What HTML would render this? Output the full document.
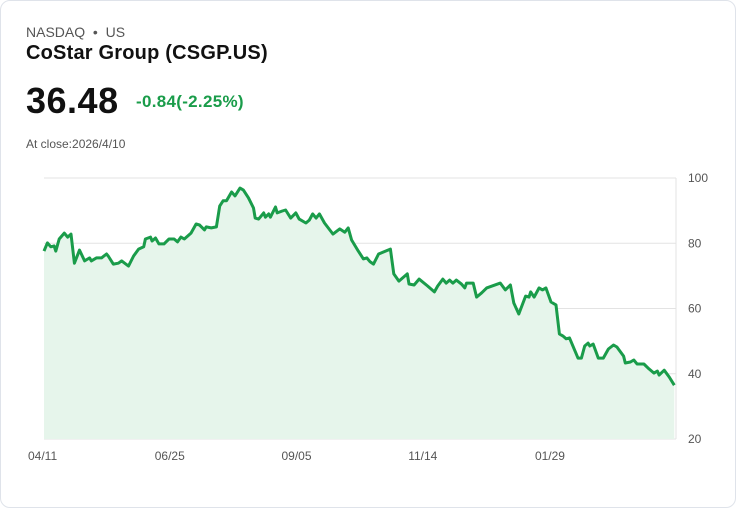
<!DOCTYPE html>
<html><head><meta charset="utf-8"><style>
body{margin:0;background:#fff;font-family:"Liberation Sans",sans-serif;}
.card{position:absolute;left:0;top:0;width:734px;height:506px;border:1px solid #dfe3ea;border-radius:10px;background:#fff;}
.t{position:absolute;white-space:nowrap;}
</style></head><body>
<div class="card">
<div class="t" style="left:25px;top:23px;font-size:14px;color:#555;">NASDAQ &nbsp;•&nbsp; US</div>
<div class="t" style="left:25px;top:41px;font-size:20px;font-weight:bold;color:#111;letter-spacing:0.2px;">CoStar Group (CSGP.US)</div>
<div class="t" style="left:25px;top:79px;font-size:36px;font-weight:bold;color:#111;letter-spacing:0.5px;">36.48</div>
<div class="t" style="left:135px;top:91px;font-size:17px;font-weight:bold;color:#1a9c4a;letter-spacing:0.3px;">-0.84(-2.25%)</div>
<div class="t" style="left:25px;top:136px;font-size:12px;color:#555;">At close:2026/4/10</div>
<svg id="chart" width="736" height="508" style="position:absolute;left:-1px;top:-1px;"></svg>
</div>
<script>
const days=[0,2,4,6,7,9,12,14,16,18,21,24,27,28,31,34,37,38,41,44,46,50,53,56,59,60,63,64,66,68,71,74,77,79,81,83,85,87,90,92,95,96,99,102,104,106,108,111,113,116,118,121,124,125,127,130,131,133,134,137,138,141,143,146,149,151,155,157,159,161,163,166,171,175,178,180,182,186,189,191,193,195,198,205,207,210,215,216,219,222,227,231,233,236,238,240,242,244,247,249,250,254,256,259,262,270,273,276,278,281,285,287,288,290,293,295,297,300,303,305,307,309,311,316,318,320,322,323,325,328,331,334,337,339,343,344,347,349,351,355,358,361,363,364,367,370,373];
const prices=[77.6,80.1,78.9,79.2,77.6,81.3,83.1,81.9,82.8,73.9,77.9,74.6,75.5,74.6,75.5,75.5,76.7,76.1,73.6,73.9,74.6,73.0,76.1,78.2,78.9,81.3,81.9,80.7,81.6,79.8,79.8,81.3,81.3,80.4,81.9,81.3,82.2,83.1,85.9,85.6,84.1,85.0,84.7,85.0,91.4,93.0,93.0,95.7,94.5,96.9,96.3,93.9,90.8,87.7,87.4,89.3,88.0,89.0,88.0,91.1,89.3,89.9,90.2,87.7,89.3,87.4,86.2,87.1,89.0,87.7,89.0,86.2,82.8,84.4,83.4,84.7,81.0,77.6,75.2,75.5,74.3,73.6,76.7,78.2,70.6,68.4,70.6,67.5,67.2,69.0,66.9,65.1,66.9,69.0,67.8,68.7,67.8,68.7,67.5,66.3,67.8,67.8,63.5,64.8,66.3,67.8,65.7,67.2,61.7,58.3,63.8,63.5,65.1,63.5,66.3,65.7,66.3,62.0,61.1,52.2,51.6,50.7,51.0,44.8,44.8,48.5,49.4,48.5,49.1,44.8,44.8,47.6,48.8,48.2,45.4,43.3,43.6,44.2,43.0,43.0,41.5,40.2,40.8,39.6,41.1,39.0,36.48];
const yTicks=[100,80,60,40,20];
const xTickLabels=['04/11','06/25','09/05','11/14','01/29'];
const xTickDays=[0,75,150,225,300];
const NS='http://www.w3.org/2000/svg';
const svg=document.getElementById('chart');
const X0=44,X1=676,Y0=439,Y1=178,D=374;
const xs=d=>X0+d*(X1-X0)/D;
const ys=v=>Y0-(v-20)*(Y0-Y1)/80;
function mk(t,a){const e=document.createElementNS(NS,t);for(const k in a)e.setAttribute(k,a[k]);svg.appendChild(e);return e;}
yTicks.forEach(v=>{
 const l=mk('line',{x1:X0,x2:X1,y1:ys(v),y2:ys(v),stroke:'#e3e3e3','stroke-width':1});
 
 
 const t=mk('text',{x:688,y:ys(v)+4,'font-size':12,fill:'#555','font-family':'Liberation Sans, sans-serif'});
 t.textContent=v;
 
 
});
const ax=mk('line',{x1:X1,x2:X1,y1:Y1,y2:Y0,stroke:'#e3e3e3','stroke-width':1});


xTickLabels.forEach((s,i)=>{
 const t=mk('text',{x:xs(xTickDays[i])-16,y:460,'font-size':12,fill:'#555','font-family':'Liberation Sans, sans-serif'});
 t.textContent=s;
 
 
});
let p=days.map((d,i)=>xs(d).toFixed(1)+','+ys(prices[i]).toFixed(1)).join(' L');
const area=mk('path',{d:'M'+p+' L'+xs(days[days.length-1])+','+Y0+' L'+xs(0)+','+Y0+' Z',fill:'#e6f5eb'});


const line=mk('path',{d:'M'+p,fill:'none',stroke:'#1a9c4a','stroke-width':3,'stroke-linejoin':'round'});


</script>
</body></html>
